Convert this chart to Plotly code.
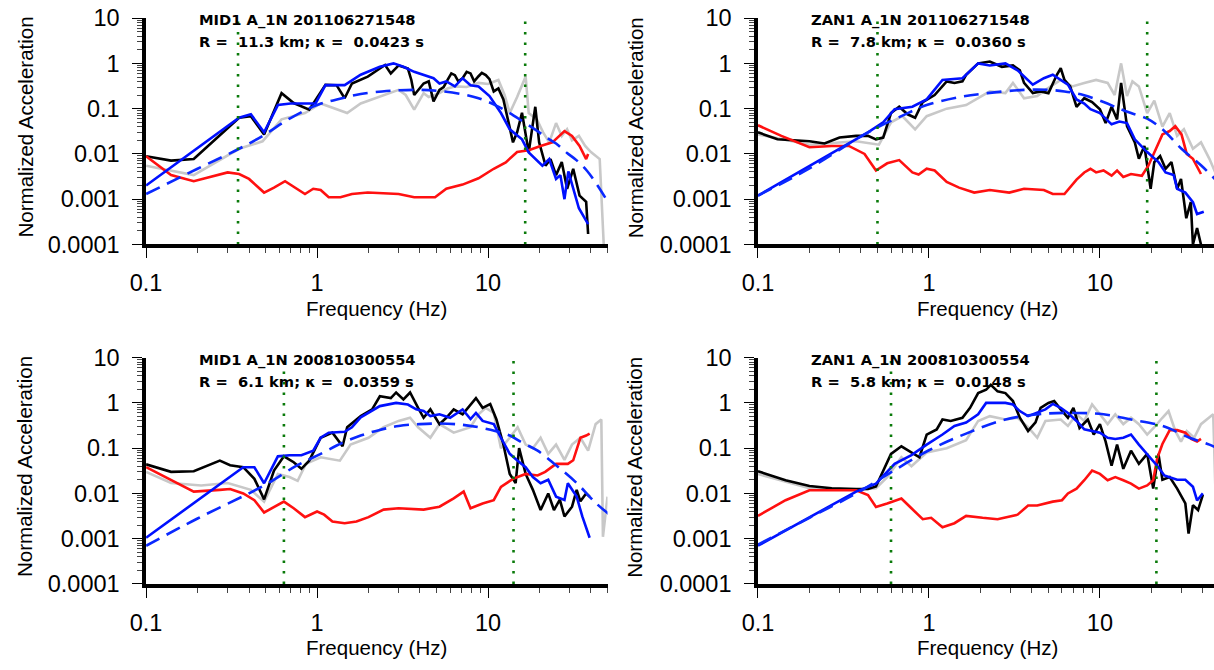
import plotly.graph_objects as go

FONT = "Liberation Sans, Arial, Helvetica, sans-serif"
HEAD_FONT = "DejaVu Sans, Liberation Sans, Arial, sans-serif"

# ---------------- axis ticks ----------------
x_major = [0.1, 1, 10]
x_major_text = ["0.1", "1", "10"]
y_major = [1e-4, 1e-3, 1e-2, 1e-1, 1, 10]
y_major_text = ["0.0001", "0.001", "0.01", "0.1", "1", "10"]
x_minor = [m * d for d in (0.1, 1, 10) for m in range(2, 10)]
y_minor = [m * d for d in (1e-4, 1e-3, 1e-2, 1e-1, 1) for m in range(2, 10)]

# ---------------- MID1 A_1N 201106271548 ----------------
tl_title = "MID1 A_1N 201106271548"
tl_sub = "R =\u00a0 11.3 km; \u03ba =\u00a0 0.0423 s"
tl_band = [0.345, 16.5]
tl_black_f = [0.1, 0.14, 0.19, 0.35, 0.41, 0.49, 0.62, 0.73, 0.9, 1.12, 1.3, 1.45, 1.6, 1.98, 2.33,
              2.5, 2.7, 3.0, 3.4, 3.56, 3.7, 4.2, 4.5, 4.8, 5.2, 5.5, 5.8, 6.1, 6.4, 6.7, 7.1, 7.5,
              7.9, 8.3, 8.8, 9.2, 9.7, 10.2, 10.8, 11.5, 12.3, 13.4, 14.0, 14.8, 15.8, 17.3, 18.9,
              19.9, 21.7, 23.2, 25, 27, 29, 31.5, 34.3, 37.5, 38.5]
tl_black_a = [0.0089, 0.0071, 0.0077, 0.063, 0.068, 0.027, 0.22, 0.133, 0.095, 0.335, 0.33, 0.17,
              0.36, 0.51, 0.77, 0.92, 0.6, 0.9, 0.77, 0.43, 0.2, 0.36, 0.4, 0.145, 0.26, 0.3, 0.43,
              0.6, 0.55, 0.4, 0.47, 0.65, 0.6, 0.4, 0.52, 0.62, 0.55, 0.45, 0.24, 0.28, 0.16, 0.035,
              0.018, 0.03, 0.081, 0.0108, 0.11, 0.018, 0.0055, 0.0077, 0.0034, 0.0066, 0.0017,
              0.0047, 0.0012, 0.00087, 0.00017]
tl_gray_f = [0.1, 0.14, 0.19, 0.35, 0.48, 0.62, 0.85, 1.05, 1.5, 1.8, 2.6, 3.0, 3.3, 3.7, 4.2, 4.5,
             5.2, 5.8, 6.4, 7.5, 8.8, 10, 11.5, 12.5, 13.4, 14.8, 16.6, 17.3, 19.3, 21, 22.8, 25,
             27, 29, 31, 34, 37, 40, 45, 47.5]
tl_gray_a = [0.0055, 0.0042, 0.0034, 0.013, 0.019, 0.058, 0.08, 0.13, 0.08, 0.13, 0.22, 0.26, 0.2,
             0.095, 0.22, 0.18, 0.22, 0.28, 0.31, 0.3, 0.37, 0.35, 0.43, 0.2, 0.08, 0.18, 0.51,
             0.08, 0.058, 0.03, 0.018, 0.048, 0.025, 0.035, 0.02, 0.025, 0.015, 0.011, 0.0077, 0.0001]
tl_blue_f = [0.1, 0.35, 0.41, 0.49, 0.59, 0.7, 0.98, 1.12, 1.3, 1.45, 1.8, 2.33, 2.8, 3.2, 3.7, 4.2,
             4.8, 5.2, 5.7, 6.4, 7.1, 7.9, 8.8, 10.2, 11.9, 13.4, 15.8, 17.3, 18.9, 20.8, 22.8, 25,
             26.5, 28, 29.5, 34, 38.5]
tl_blue_a = [0.002, 0.063, 0.075, 0.03, 0.12, 0.13, 0.13, 0.33, 0.33, 0.33, 0.56, 0.84, 1.0, 0.84,
             0.65, 0.56, 0.47, 0.36, 0.4, 0.31, 0.47, 0.33, 0.31, 0.19, 0.08, 0.035, 0.021, 0.0108,
             0.0077, 0.0055, 0.0077, 0.0028, 0.0034, 0.001, 0.0041, 0.00063, 0.00028]
tl_model_f = [0.1, 0.2, 0.35, 0.48, 0.7, 1.0, 1.4, 1.8, 2.4, 3.0, 4.0, 5.2, 7.0, 8.8, 11, 13.4, 16,
              19, 22, 25, 29, 33, 38, 43, 50]
tl_model_a = [0.0013, 0.0047, 0.013, 0.025, 0.062, 0.12, 0.17, 0.21, 0.24, 0.255, 0.26, 0.245, 0.21,
              0.17, 0.12, 0.08, 0.052, 0.034, 0.023, 0.017, 0.0105, 0.0072, 0.0042, 0.0022, 0.0009]
tl_noise_f = [0.1, 0.14, 0.19, 0.3, 0.35, 0.4, 0.49, 0.56, 0.65, 0.73, 0.85, 0.95, 1.05, 1.17, 1.37,
              1.6, 1.98, 3.0, 3.7, 4.9, 5.7, 7.1, 8.8, 10.8, 12.7, 14.8, 17.3, 20.3, 23.8, 28, 31,
              34.3, 37.5, 38.5]
tl_noise_a = [0.0089, 0.0034, 0.0025, 0.0039, 0.0036, 0.0028, 0.0014, 0.0018, 0.0025, 0.0019, 0.0013,
              0.0017, 0.0016, 0.0011, 0.0011, 0.0013, 0.0014, 0.0013, 0.0011, 0.0011, 0.0017, 0.0021,
              0.0029, 0.0047, 0.0065, 0.011, 0.012, 0.015, 0.018, 0.032, 0.025, 0.015, 0.0077, 0.01]

# ---------------- ZAN1 A_1N 201106271548 ----------------
tr_title = "ZAN1 A_1N 201106271548"
tr_sub = "R =\u00a0 7.8 km; \u03ba =\u00a0 0.0360 s"
tr_band = [0.5, 18.9]
tr_black_f = [0.1, 0.13, 0.2, 0.245, 0.3, 0.375, 0.44, 0.49, 0.54, 0.6, 0.67, 0.75, 0.83, 0.92, 1.08,
              1.27, 1.41, 1.57, 1.65, 1.94, 2.27, 2.67, 3.1, 3.4, 3.6, 4.05, 4.5, 5.0, 5.6, 5.9, 6.2,
              6.7, 7.3, 8.1, 9.0, 10, 10.8, 11.7, 12.6, 13.3, 14.4, 16, 16.9, 18.2, 19.8, 20.8, 22.5,
              24.2, 26.2, 28.3, 29.8, 32, 34, 35, 37, 39]
tr_black_a = [0.03, 0.021, 0.019, 0.017, 0.023, 0.025, 0.025, 0.021, 0.023, 0.08, 0.11, 0.075, 0.063,
              0.14, 0.2, 0.4, 0.37, 0.4, 0.56, 1.0, 1.1, 0.84, 0.9, 0.7, 0.37, 0.22, 0.24, 0.22, 0.56,
              0.78, 0.43, 0.31, 0.11, 0.17, 0.14, 0.097, 0.048, 0.11, 0.058, 0.37, 0.041, 0.018,
              0.0078, 0.015, 0.0017, 0.0066, 0.009, 0.0047, 0.0066, 0.0017, 0.0028, 0.00038, 0.00086,
              0.0001, 0.00023, 0.0001]
tr_gray_f = [0.1, 0.2, 0.375, 0.51, 0.6, 0.7, 0.83, 0.97, 1.27, 1.65, 2.27, 2.8, 3.1, 3.6, 4.3, 4.8,
             5.9, 6.9, 8.1, 9.5, 11.1, 12.2, 13.3, 14.4, 15.5, 16.9, 18.9, 20.8, 23.2, 25.6, 28.3, 31,
             35, 39, 43.7, 48, 49]
tr_gray_a = [0.027, 0.016, 0.019, 0.016, 0.05, 0.068, 0.035, 0.068, 0.1, 0.12, 0.24, 0.22, 0.37,
             0.17, 0.19, 0.26, 0.43, 0.31, 0.37, 0.43, 0.37, 0.2, 1.0, 0.19, 0.4, 0.31, 0.08, 0.15,
             0.04, 0.08, 0.025, 0.035, 0.013, 0.018, 0.0078, 0.0034, 0.0001]
tr_blue_f = [0.1, 0.44, 0.54, 0.63, 0.8, 0.97, 1.2, 1.57, 1.94, 2.27, 2.8, 3.3, 4.05, 4.7, 5.3, 5.9,
             6.5, 7.3, 8.1, 8.8, 10, 11.7, 13, 14.4, 16, 18.9, 22, 24.2, 27, 28.3, 31.6, 35, 37, 40.5]
tr_blue_a = [0.0012, 0.03, 0.05, 0.097, 0.11, 0.16, 0.43, 0.47, 1.0, 0.9, 1.0, 0.7, 0.34, 0.47, 0.56,
             0.43, 0.34, 0.16, 0.13, 0.097, 0.08, 0.045, 0.052, 0.048, 0.021, 0.011, 0.0066, 0.0039,
             0.0034, 0.0017, 0.0014, 0.00086, 0.00047, 0.00053]
tr_model_f = [0.1, 0.2, 0.44, 0.7, 0.97, 1.5, 2.2, 3.6, 5, 6.2, 8, 10.5, 13, 15.2, 18.9, 23.2, 30,
              39, 52]
tr_model_a = [0.0012, 0.0048, 0.03, 0.07, 0.12, 0.18, 0.22, 0.26, 0.26, 0.24, 0.2, 0.14, 0.1, 0.08,
              0.06, 0.035, 0.013, 0.0056, 0.0019]
tr_noise_f = [0.1, 0.137, 0.2, 0.27, 0.34, 0.42, 0.49, 0.57, 0.67, 0.8, 0.87, 0.97, 1.08, 1.27, 1.5,
              1.84, 2.27, 2.95, 3.6, 4.7, 5.3, 6.2, 7.3, 8.1, 8.8, 9.5, 10.5, 11.7, 12.6, 13.7, 15.2,
              17.6, 19.2, 20.8, 23.2, 25.6, 27.6, 30, 32.2, 35, 39]
tr_noise_a = [0.043, 0.025, 0.014, 0.015, 0.015, 0.01, 0.0043, 0.0062, 0.0073, 0.0039, 0.0035, 0.0047,
              0.0043, 0.0024, 0.0018, 0.0014, 0.0016, 0.0014, 0.0017, 0.0016, 0.0013, 0.0013, 0.0027,
              0.0039, 0.0047, 0.0039, 0.0043, 0.0033, 0.0043, 0.0031, 0.0036, 0.0033, 0.0055, 0.011,
              0.027, 0.032, 0.041, 0.027, 0.01, 0.0078, 0.0036]

# ---------------- MID1 A_1N 200810300554 ----------------
bl_title = "MID1 A_1N 200810300554"
bl_sub = "R =\u00a0 6.1 km; \u03ba =\u00a0 0.0359 s"
bl_band = [0.64, 14.1]
bl_black_f = [0.1, 0.14, 0.19, 0.27, 0.31, 0.37, 0.43, 0.49, 0.56, 0.64, 0.73, 0.81, 0.9, 1.05, 1.23,
              1.41, 1.5, 1.8, 2.1, 2.33, 2.7, 2.9, 3.2, 3.5, 3.9, 4.2, 4.6, 5.2, 5.7, 6.3, 7.1, 7.9,
              8.5, 9.3, 10.3, 11.2, 12.3, 13.4, 14.5, 15.2, 16.6, 18.3, 20.3, 22.5, 24.3, 26.3, 28,
              31, 33, 34.7, 37.5, 39.3]
bl_black_a = [0.044, 0.03, 0.031, 0.053, 0.042, 0.038, 0.021, 0.0074, 0.032, 0.066, 0.049, 0.035,
              0.053, 0.17, 0.22, 0.11, 0.29, 0.51, 0.72, 1.4, 1.28, 1.7, 1.2, 1.7, 0.78, 0.47, 0.72,
              0.34, 0.47, 0.72, 0.56, 0.94, 1.28, 0.78, 0.94, 0.43, 0.12, 0.027, 0.017, 0.1, 0.027,
              0.012, 0.0043, 0.01, 0.0043, 0.0073, 0.0031, 0.0051, 0.012, 0.0067, 0.01, 0.0085]
bl_gray_f = [0.1, 0.14, 0.21, 0.3, 0.41, 0.49, 0.59, 0.69, 0.77, 0.86, 1.05, 1.36, 1.57, 2.0, 2.45,
             3.0, 3.5, 3.9, 4.6, 5.2, 6.3, 7.9, 8.8, 9.7, 10.8, 11.9, 13.4, 14.9, 16.6, 18.3, 20.3,
             22.5, 25, 28, 31, 34.7, 38.5, 42.6, 46, 47, 50]
bl_gray_a = [0.03, 0.017, 0.015, 0.017, 0.012, 0.0066, 0.027, 0.023, 0.019, 0.045, 0.063, 0.053,
             0.12, 0.17, 0.29, 0.4, 0.47, 0.29, 0.17, 0.34, 0.22, 0.29, 0.56, 0.78, 0.6, 0.1, 0.17,
             0.29, 0.12, 0.1, 0.17, 0.075, 0.12, 0.055, 0.12, 0.17, 0.088, 0.34, 0.43, 0.0011, 0.0085]
bl_blue_f = [0.1, 0.37, 0.43, 0.49, 0.59, 0.69, 0.81, 0.95, 1.05, 1.17, 1.45, 1.6, 1.8, 2.33, 2.9,
             3.4, 3.8, 4.2, 4.6, 5.2, 6.0, 7.1, 7.9, 8.5, 9.3, 10.8, 11.9, 13.4, 14.9, 16.6, 18.3,
             20.3, 22.5, 25, 28, 29.3, 33, 35.6, 39.3]
bl_blue_a = [0.00105, 0.038, 0.038, 0.0168, 0.066, 0.07, 0.07, 0.088, 0.17, 0.22, 0.23, 0.29, 0.48,
             0.85, 1.0, 0.92, 0.72, 0.66, 0.51, 0.56, 0.47, 0.72, 0.44, 0.6, 0.4, 0.34, 0.17, 0.075,
             0.053, 0.038, 0.023, 0.0168, 0.02, 0.0085, 0.0072, 0.0168, 0.0085, 0.0031, 0.00105]
bl_model_f = [0.1, 0.2, 0.49, 0.75, 1.05, 1.4, 1.8, 2.3, 3.0, 4.0, 5.2, 7.0, 8.8, 11, 13.4, 16,
              19.5, 25, 33, 42.6, 53]
bl_model_a = [0.0007, 0.0028, 0.015, 0.04, 0.075, 0.13, 0.19, 0.25, 0.31, 0.34, 0.35, 0.33, 0.29,
              0.24, 0.19, 0.13, 0.088, 0.042, 0.017, 0.0062, 0.0031]
bl_noise_f = [0.1, 0.14, 0.19, 0.27, 0.31, 0.37, 0.43, 0.49, 0.56, 0.64, 0.73, 0.85, 1.0, 1.1, 1.23,
              1.45, 1.7, 2.0, 2.45, 3.0, 4.2, 5.2, 6.3, 7.2, 7.9, 9.3, 10.8, 11.9, 14, 16.6, 19.5,
              21.6, 25, 29.3, 31.5, 34.7, 37.5, 39.3]
bl_noise_a = [0.038, 0.0196, 0.011, 0.012, 0.0125, 0.01, 0.0071, 0.0038, 0.0051, 0.0066, 0.0047, 0.003,
              0.004, 0.0034, 0.0024, 0.0022, 0.0024, 0.003, 0.0044, 0.0047, 0.0044, 0.0051, 0.0078,
              0.011, 0.0047, 0.006, 0.0071, 0.014, 0.021, 0.027, 0.025, 0.03, 0.045, 0.045, 0.054,
              0.17, 0.19, 0.21]

# ---------------- ZAN1 A_1N 200810300554 ----------------
br_title = "ZAN1 A_1N 200810300554"
br_sub = "R =\u00a0 5.8 km; \u03ba =\u00a0 0.0148 s"
br_band = [0.6, 21.4]
br_black_f = [0.1, 0.145, 0.2, 0.27, 0.375, 0.44, 0.49, 0.54, 0.6, 0.69, 0.79, 0.88, 0.97, 1.11, 1.2,
              1.34, 1.57, 1.74, 1.94, 2.16, 2.3, 2.52, 2.8, 3.1, 3.4, 3.8, 4.2, 4.5, 5.0, 5.4, 5.9,
              6.5, 7.0, 7.6, 8.5, 9.2, 10, 10.8, 11.7, 12.6, 13.7, 15.2, 16.9, 18.9, 20.5, 22, 23.2,
              25.6, 28.3, 31.6, 33, 35, 37.5, 40]
br_black_a = [0.031, 0.0196, 0.0146, 0.013, 0.0125, 0.0125, 0.0142, 0.032, 0.075, 0.11, 0.08, 0.063,
              0.2, 0.26, 0.43, 0.4, 0.47, 0.78, 1.65, 1.95, 2.5, 1.8, 1.65, 1.1, 0.47, 0.24, 0.37,
              0.78, 1.0, 1.1, 0.72, 0.47, 0.78, 0.28, 0.43, 0.2, 0.34, 0.14, 0.041, 0.12, 0.035,
              0.088, 0.045, 0.075, 0.0128, 0.075, 0.02, 0.023, 0.0128, 0.006, 0.0013, 0.0055, 0.0043,
              0.0093]
br_gray_f = [0.1, 0.2, 0.375, 0.49, 0.57, 0.69, 0.79, 0.97, 1.27, 1.65, 1.94, 2.27, 2.8, 3.3, 3.8,
             4.3, 4.8, 5.9, 6.5, 7.3, 8.1, 9.0, 10, 11.1, 12.3, 13.7, 15.2, 16.9, 18.9, 20.8, 23.2,
             25.2, 27.6, 29.8, 32.2, 35.6, 39, 43.7, 46, 48, 49]
br_gray_a = [0.027, 0.013, 0.012, 0.013, 0.023, 0.063, 0.04, 0.08, 0.1, 0.15, 0.4, 0.51, 0.43, 0.47,
             0.29, 0.17, 0.4, 0.43, 0.31, 0.56, 0.4, 0.92, 0.56, 0.34, 0.56, 0.34, 0.47, 0.34, 0.2,
             0.29, 0.47, 0.66, 0.24, 0.14, 0.24, 0.17, 0.34, 0.47, 0.56, 0.0022, 0.003]
br_blue_f = [0.1, 0.375, 0.49, 0.57, 0.63, 0.79, 0.97, 1.2, 1.41, 1.65, 1.94, 2.16, 2.8, 3.1, 3.4,
             3.8, 4.3, 4.8, 5.3, 5.9, 6.5, 7.3, 8.1, 9.0, 10, 11.1, 12.3, 13.7, 15.2, 16.9, 18.9,
             20.8, 22, 23.8, 25.6, 28.3, 31.6, 35, 37, 40]
br_blue_a = [0.0007, 0.011, 0.0165, 0.03, 0.045, 0.07, 0.12, 0.2, 0.31, 0.37, 0.56, 1.0, 1.0, 0.92,
             0.66, 0.51, 0.6, 0.72, 0.95, 0.78, 0.6, 0.4, 0.26, 0.24, 0.22, 0.17, 0.16, 0.17, 0.2,
             0.12, 0.075, 0.049, 0.038, 0.025, 0.023, 0.02, 0.02, 0.014, 0.007, 0.01]
br_model_f = [0.1, 0.2, 0.375, 0.57, 1.0, 1.65, 2.8, 4.8, 7.3, 10.5, 15.2, 23.2, 33.4, 43.7, 52]
br_model_a = [0.00074, 0.0029, 0.01, 0.026, 0.09, 0.21, 0.43, 0.58, 0.6, 0.56, 0.43, 0.31, 0.17,
              0.12, 0.088]
br_noise_f = [0.1, 0.145, 0.2, 0.27, 0.375, 0.44, 0.49, 0.57, 0.69, 0.79, 0.92, 1.03, 1.2, 1.41,
              1.65, 2.06, 2.52, 3.3, 3.8, 4.3, 4.8, 5.3, 6.0, 6.5, 7.3, 8.1, 9.0, 10, 11.1, 12.3,
              13.7, 15.2, 16.9, 18.9, 20.5, 21.6, 23.2, 25.6, 28.3, 31.6, 34.2, 37, 39]
br_noise_a = [0.0032, 0.0071, 0.0118, 0.0118, 0.0118, 0.0092, 0.005, 0.006, 0.0077, 0.0047, 0.0027,
              0.0029, 0.0018, 0.0022, 0.0032, 0.0029, 0.0027, 0.0034, 0.0054, 0.0054, 0.006, 0.0066,
              0.0071, 0.01, 0.0128, 0.0196, 0.032, 0.027, 0.0196, 0.023, 0.0196, 0.0165, 0.0128,
              0.015, 0.0196, 0.058, 0.124, 0.25, 0.25, 0.22, 0.16, 0.14, 0.16]

# ---------------- layout geometry ----------------
# Positions are written in page pixels: the figure sits inside the body's default
# 8px margin and the whole page (figure + margins) is shown at 1214 x 670.
W, H = 1214, 670
OFF = 8
SX, SY = W / (W + 2 * OFF), H / (H + 2 * OFF)
DEC = 171.0 / SX  # figure pixels per decade on the frequency axes


def fig_px_x(v):
    return v / SX - OFF


def fig_px_y(v):
    return v / SY - OFF


def px_x(v):
    return fig_px_x(v) / W


def px_y(v):
    return 1 - fig_px_y(v) / H


col_dom = {"L": [px_x(138), px_x(599.5)], "R": [px_x(750), 1.0]}
col_rng = {"L": [-1, -1 + (fig_px_x(599.5) - fig_px_x(138)) / DEC],
           "R": [-1, -1 + (W - fig_px_x(750)) / DEC]}
row_dom = {"T": [px_y(243), px_y(13)], "B": [px_y(588), px_y(358)]}

panels = [
    dict(key="", col="L", row="T", title=tl_title, sub=tl_sub, band=tl_band,
         gray=(tl_gray_f, tl_gray_a), black=(tl_black_f, tl_black_a),
         noise=(tl_noise_f, tl_noise_a), blue=(tl_blue_f, tl_blue_a), model=(tl_model_f, tl_model_a)),
    dict(key="2", col="R", row="T", title=tr_title, sub=tr_sub, band=tr_band,
         gray=(tr_gray_f, tr_gray_a), black=(tr_black_f, tr_black_a),
         noise=(tr_noise_f, tr_noise_a), blue=(tr_blue_f, tr_blue_a), model=(tr_model_f, tr_model_a)),
    dict(key="3", col="L", row="B", title=bl_title, sub=bl_sub, band=bl_band,
         gray=(bl_gray_f, bl_gray_a), black=(bl_black_f, bl_black_a),
         noise=(bl_noise_f, bl_noise_a), blue=(bl_blue_f, bl_blue_a), model=(bl_model_f, bl_model_a)),
    dict(key="4", col="R", row="B", title=br_title, sub=br_sub, band=br_band,
         gray=(br_gray_f, br_gray_a), black=(br_black_f, br_black_a),
         noise=(br_noise_f, br_noise_a), blue=(br_blue_f, br_blue_a), model=(br_model_f, br_model_a)),
]

fig = go.Figure()
annotations = []
layout_axes = {}

tick_font = dict(family=FONT, size=23.5, color="black")
title_font = dict(family=FONT, size=20.5, color="black")

for p in panels:
    xa, ya = "x" + p["key"], "y" + p["key"]
    common = dict(xaxis=xa, yaxis=ya, mode="lines", showlegend=False, hoverinfo="skip")
    fig.add_trace(go.Scatter(x=p["gray"][0], y=p["gray"][1], line=dict(color="#c8c8c8", width=2.6), **common))
    fig.add_trace(go.Scatter(x=p["black"][0], y=p["black"][1], line=dict(color="black", width=2.6), **common))
    fig.add_trace(go.Scatter(x=p["noise"][0], y=p["noise"][1], line=dict(color="#ff1010", width=2.6), **common))
    fig.add_trace(go.Scatter(x=p["blue"][0], y=p["blue"][1], line=dict(color="#0010ff", width=2.6), **common))
    fig.add_trace(go.Scatter(x=p["model"][0], y=p["model"][1],
                             line=dict(color="#0a28ff", width=2.6, dash="15px,8px", shape="spline", smoothing=1.0),
                             **common))
    for fb in p["band"]:
        fig.add_trace(go.Scatter(x=[fb, fb], y=[y_major[0], y_major[-1]],
                                 line=dict(color="#0a7a0a", width=2.6, dash="2.5px,8px"), **common))

    xname = "xaxis" + p["key"]
    yname = "yaxis" + p["key"]
    layout_axes[xname] = dict(
        type="log", domain=col_dom[p["col"]], range=col_rng[p["col"]], anchor=ya,
        showgrid=False, zeroline=False, showline=True, linecolor="black", linewidth=3.5,
        ticks="outside", ticklen=10, tickwidth=1.2, tickcolor="black", ticklabelstandoff=5,
        ticklabeloverflow="allow",
        tickmode="array", tickvals=x_major, ticktext=x_major_text, tickfont=tick_font,
        minor=dict(ticks="outside", ticklen=5, tickwidth=1, tickcolor="#444",
                   tickmode="array", tickvals=x_minor, showgrid=False),
        fixedrange=True,
    )
    layout_axes[yname] = dict(
        type="log", domain=row_dom[p["row"]], range=[-4, 1], anchor=xa,
        showgrid=False, zeroline=False, showline=True, linecolor="black", linewidth=3.5,
        ticks="outside", ticklen=10, tickwidth=1.2, tickcolor="black", ticklabelstandoff=8,
        ticklabeloverflow="allow",
        tickmode="array", tickvals=y_major, ticktext=y_major_text, tickfont=tick_font,
        minor=dict(ticks="outside", ticklen=5, tickwidth=1, tickcolor="#444",
                   tickmode="array", tickvals=y_minor, showgrid=False),
        fixedrange=True,
    )

    # panel header: station / event and distance / kappa
    x0 = px_x(190 if p["col"] == "L" else 802)
    y1 = 15 if p["row"] == "T" else 360
    for txt, yy in ((p["title"], y1), (p["sub"], y1 + 22)):
        annotations.append(dict(
            text="<b>" + txt + "</b>", xref="paper", yref="paper", x=x0, y=px_y(yy),
            xanchor="left", yanchor="middle", showarrow=False, borderpad=0,
            font=dict(family=HEAD_FONT, size=14.7, color="black")))

    # axis titles
    xc = px_x(368 if p["col"] == "L" else 980)
    ty = 308 if p["row"] == "T" else 653
    annotations.append(dict(
        text="Frequency (Hz)", xref="paper", yref="paper", x=xc, y=px_y(ty),
        xanchor="center", yanchor="middle", showarrow=False, borderpad=0, font=title_font))
    yt = px_x(17 if p["col"] == "L" else 627)
    annotations.append(dict(
        text="Normalized Acceleration", xref="paper", yref="paper", x=yt,
        y=px_y(124 if p["row"] == "T" else 469),
        xanchor="center", yanchor="middle", textangle=-90, showarrow=False, borderpad=0, font=title_font))

fig.update_layout(
    width=W, height=H, margin=dict(l=0, r=0, t=0, b=0),
    paper_bgcolor="white", plot_bgcolor="white",
    font=dict(family=FONT, color="black"),
    annotations=annotations,
    **layout_axes,
)

fig.write_html("out.html", include_plotlyjs=True, config={"displayModeBar": False})
